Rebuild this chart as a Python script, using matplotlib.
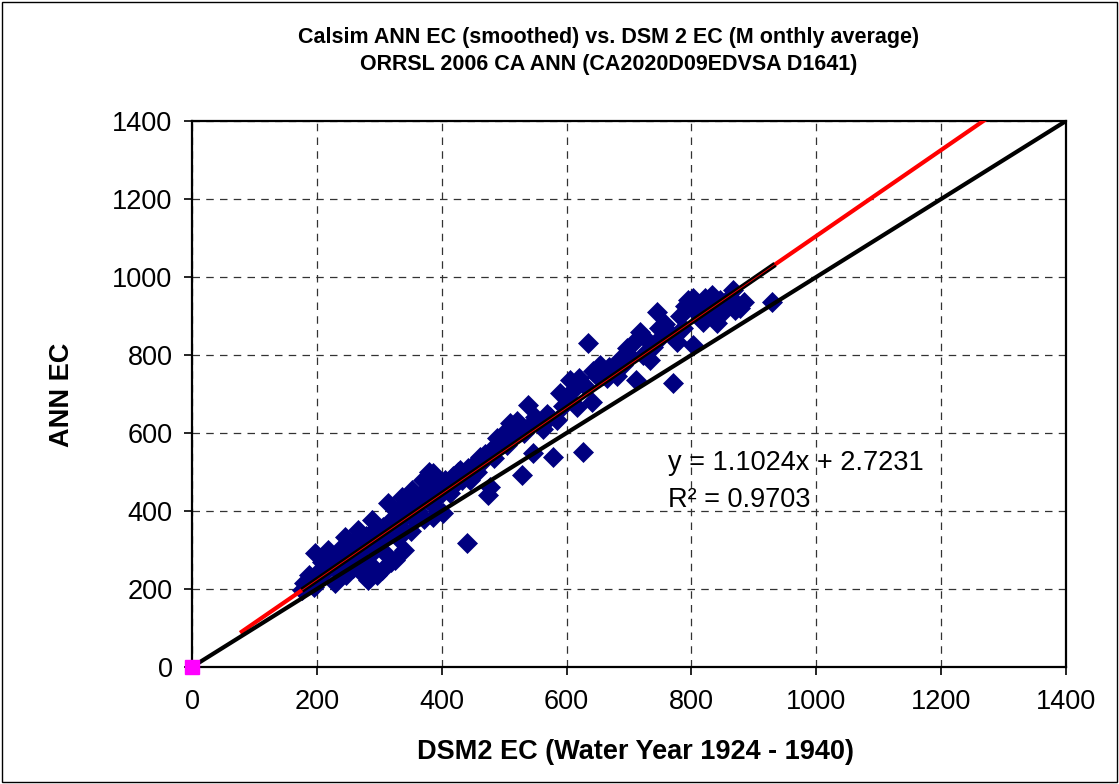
import numpy as np
import matplotlib
matplotlib.use("Agg")
import matplotlib.pyplot as plt
from matplotlib.patches import Rectangle

plt.rcParams["font.family"] = ["Liberation Sans", "DejaVu Sans"]

# DSM2 EC (x) vs Calsim ANN EC (y), monthly points
dsm2_ec = [176, 180, 188, 195, 197, 202, 205, 208, 212, 218, 222, 226, 229, 232, 236, 240,
           245, 246, 250, 254, 258, 262, 266, 268, 272, 275, 278, 282, 285, 288, 290, 293,
           297, 300, 304, 306, 309, 312, 314, 318, 320, 325, 328, 330, 333, 336, 340, 343,
           346, 350, 352, 355, 358, 362, 366, 370, 372, 376, 380, 383, 386, 386, 390, 394,
           398, 402, 406, 410, 413, 418, 422, 426, 429, 433, 440, 442, 445, 448, 452, 456,
           461, 465, 470, 474, 477, 480, 484, 488, 492, 496, 500, 504, 509, 512, 516, 520,
           528, 532, 538, 542, 546, 550, 557, 562, 568, 574, 578, 585, 589, 594, 600, 605,
           610, 616, 620, 626, 630, 634, 640, 642, 648, 653, 658, 664, 668, 674, 680, 686,
           690, 697, 700, 706, 712, 717, 722, 728, 733, 738, 745, 748, 752, 758, 764, 770,
           777, 782, 786, 790, 795, 802, 802, 808, 812, 818, 822, 826, 833, 836, 841, 846,
           850, 856, 862, 866, 870, 878, 884, 929]
ann_ec = [197, 215, 235, 205, 292, 223, 250, 270, 240, 300, 262, 280, 215, 250, 300, 270,
          333, 235, 290, 310, 255, 325, 351, 285, 241, 305, 335, 223, 265, 377, 350, 300,
          235, 320, 249, 360, 292, 340, 420, 270, 380, 274, 400, 330, 360, 436, 300, 390,
          410, 350, 454, 380, 420, 400, 440, 479, 380, 430, 500, 460, 385, 497, 410, 470,
          440, 395, 480, 455, 446, 490, 470, 500, 505, 480, 318, 510, 479, 495, 520, 500,
          538, 525, 545, 441, 462, 560, 535, 587, 565, 580, 600, 570, 625, 595, 610, 630,
          492, 600, 672, 620, 548, 640, 625, 610, 650, 640, 538, 633, 702, 670, 690, 736,
          710, 667, 740, 551, 720, 831, 680, 760, 745, 774, 750, 740, 770, 762, 745, 790,
          775, 818, 800, 830, 736, 859, 800, 840, 787, 820, 910, 870, 845, 880, 860, 728,
          833, 900, 870, 925, 940, 826, 946, 910, 930, 885, 945, 905, 954, 920, 882, 940,
          910, 930, 950, 967, 915, 920, 935, 936]

slope = 1.1024
intercept = 2.7231
r2 = 0.9703
trend_x = [77, 1400]          # extended trendline (clipped by the axes)
fit_x = [176, 934]            # trendline over the data range
one_to_one = [0, 1400]
ticks = [0, 200, 400, 600, 800, 1000, 1200, 1400]

fig = plt.figure(figsize=(11.19, 7.84), dpi=100)
ax = fig.add_axes([192/1119, 1-667/784, 874/1119, 546/784])

ax.set_xlim(0, 1400)
ax.set_ylim(0, 1400)
ax.set_xticks(ticks)
ax.set_yticks(ticks)
ax.grid(True, color="#333333", linestyle=(0, (6, 5)), linewidth=0.9)
ax.set_axisbelow(True)

ax.plot(dsm2_ec, ann_ec, linestyle="none", marker="D", markersize=10,
        color="#000080", markeredgewidth=0.5, zorder=3)

tx = np.array(trend_x)
ax.plot(tx, slope*tx + intercept, color="#ff0000", linewidth=3, zorder=4,
        solid_capstyle="butt")
fx = np.array(fit_x)
ax.plot(fx, slope*fx + intercept, color="black", linewidth=4, zorder=5,
        solid_capstyle="butt")
ax.plot(fx, slope*fx + intercept, color="#ff0000", linewidth=0.6, zorder=6)
ax.plot(one_to_one, one_to_one, color="black", linewidth=3, zorder=5)
ax.plot([0], [0], marker="s", markersize=10, color="#ff00ff", linestyle="none",
        clip_on=False, zorder=7)

ax.text(762, 523, "y = %.4fx + %.4f" % (slope, intercept), fontsize=19.5,
        ha="left", va="center", zorder=8)
ax.text(762, 428, "R\u00b2 = %.4f" % r2, fontsize=19.5, ha="left", va="center", zorder=8)

for s in ax.spines.values():
    s.set_linewidth(1.6)
    s.set_color("black")
ax.tick_params(direction="out", length=6, width=1.2, labelsize=19.5)
ax.tick_params(axis="x", pad=10)
ax.tick_params(axis="y", pad=8)

ax.set_xlabel("DSM2 EC (Water Year 1924 - 1940)", fontsize=19.5, fontweight="bold",
              va="center")
ax.xaxis.set_label_coords(0.507, -0.156)
ax.set_ylabel("ANN EC", fontsize=19.5, fontweight="bold", va="center")
ax.yaxis.set_label_coords(-0.149, 0.498)

fig.text(609/1119, 1-51/784,
         "Calsim ANN EC (smoothed) vs. DSM 2 EC (M onthly average)\n"
         "ORRSL 2006 CA ANN (CA2020D09EDVSA D1641)",
         ha="center", va="center", fontsize=15.5, fontweight="bold", linespacing=1.35)

fig.patches.append(Rectangle((0.0015, 0.002), 0.997, 0.996, transform=fig.transFigure,
                             fill=False, edgecolor="black", linewidth=1))

fig.savefig("out.png", dpi=100)
